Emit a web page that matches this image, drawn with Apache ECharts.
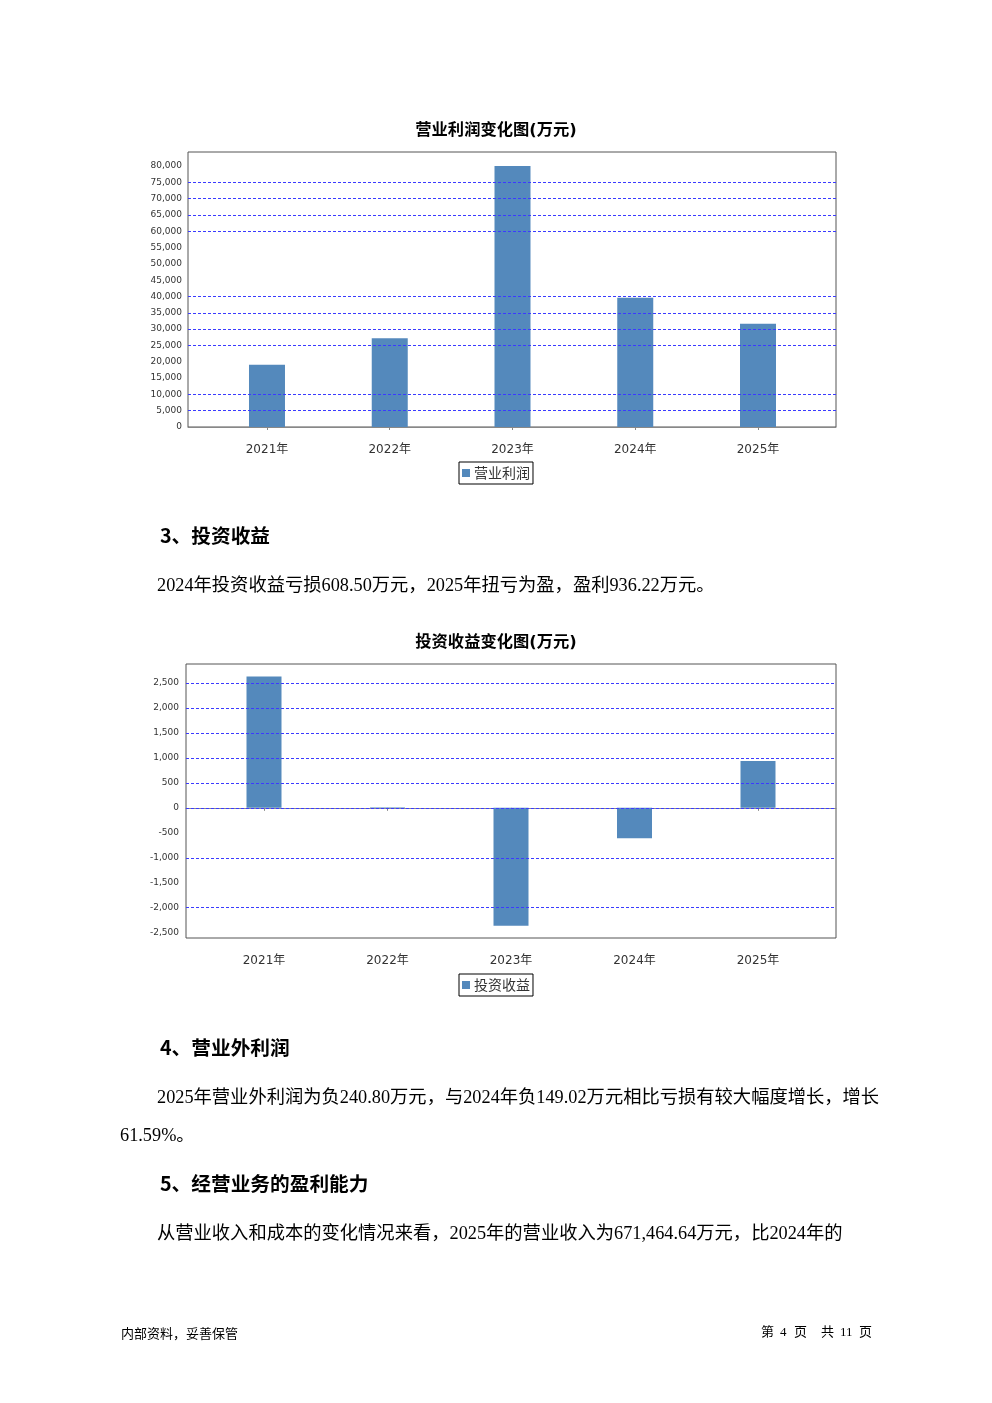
<!DOCTYPE html>
<html>
<head>
<meta charset="utf-8">
<script src="https://cdn.jsdelivr.net/npm/echarts@6/dist/echarts.min.js"></script>
<style>
html,body{margin:0;padding:0;background:#fff;}
#c{width:992px;height:1403px;}
</style>
</head>
<body>
<div id="c"></div>
<script>
// ---- data ----
const categories = ['2021年', '2022年', '2023年', '2024年', '2025年'];
const profitValues = [19100, 27200, 80000, 39650, 31650];           // 营业利润 (万元)
const investValues = [2630, 12, -2360, -608.50, 936.22];           // 投资收益 (万元)
const profitTicks = [0,5000,10000,15000,20000,25000,30000,35000,40000,45000,50000,55000,60000,65000,70000,75000,80000];
const investTicks = [-2500,-2000,-1500,-1000,-500,0,500,1000,1500,2000,2500];
const profitGridLines = [5000,10000,25000,30000,35000,40000,60000,65000,70000,75000];
const investGridLines = [2500,2000,1500,1000,500,0,-1000,-2000];

const BAR = '#5489bc';
const GRIDLINE = {color:'#3b3bff', type:[3,2], width:1};
const catIdx = categories.map((_, i) => i);
const fmt = v => Number(v).toLocaleString('en-US');

function xAxisFor(gridIndex, min, max) {
  return {
    type:'value', gridIndex, min, max, offset:9,
    splitLine:{show:false},
    axisLine:{show:true, lineStyle:{color:'#888'}},
    axisTick:{show:true, customValues:catIdx, length:3, lineStyle:{color:'#888'}},
    axisLabel:{customValues:catIdx, formatter:v => categories[Math.round(v)] || '', fontSize:12,
      color:'#333', margin:8, fontFamily:'"DejaVu Sans","Noto Sans CJK SC"'}
  };
}
function yAxisFor(gridIndex, min, max, ticks, margin) {
  return {
    type:'value', gridIndex, min, max,
    splitLine:{show:false}, axisLine:{show:false}, axisTick:{show:false},
    axisLabel:{customValues:ticks, formatter:fmt, fontSize:9, color:'#333', margin,
      fontFamily:'"DejaVu Sans"'}
  };
}
function gridLineSeries(name, idx, values) {
  return {
    name, type:'line', xAxisIndex:idx, yAxisIndex:idx, z:1, silent:true,
    data:[[0, values[0]]], showSymbol:false, symbolSize:0, lineStyle:{opacity:0}, itemStyle:{opacity:0},
    markLine:{silent:true, symbol:['none','none'], label:{show:false}, animation:false,
      lineStyle:GRIDLINE, emphasis:{disabled:true},
      data:values.map(v => ({yAxis:v}))}
  };
}
const legendBase = {
  left:'center', icon:'rect', itemWidth:8, itemHeight:8, itemGap:4,
  borderColor:'#000', borderWidth:1, padding:[3,3,3,3], selectedMode:false,
  textStyle:{fontSize:14, color:'#333', lineHeight:16, padding:[0,0,0,-1], fontFamily:'"Noto Sans CJK SC"'}
};

const BODY = '18.3px "Liberation Serif","Noto Sans CJK SC"';
const HEAD = 'bold 19.7px "Noto Sans CJK SC"';
const FOOT = '13px "Liberation Serif","Noto Sans CJK SC"';
function txt(x, y, text, font, align) {
  return {type:'text', x, y, silent:true,
    style:{text, font, fill:'#000', align:align || 'left', verticalAlign:'middle'}};
}

const option = {
  animation:false,
  backgroundColor:'#fff',
  title:[
    {text:'营业利润变化图(万元)', left:'center', top:123, padding:0,
      textStyle:{fontSize:16.3, fontWeight:'bold', color:'#000', fontFamily:'"DejaVu Sans","Noto Sans CJK SC"'}},
    {text:'投资收益变化图(万元)', left:'center', top:635, padding:0,
      textStyle:{fontSize:16.3, fontWeight:'bold', color:'#000', fontFamily:'"DejaVu Sans","Noto Sans CJK SC"'}}
  ],
  legend:[
    Object.assign({}, legendBase, {data:['营业利润'], top:462}),
    Object.assign({}, legendBase, {data:['投资收益'], top:974})
  ],
  grid:[
    {left:188, right:156, top:152, height:275, show:true, borderColor:'#555', borderWidth:1, backgroundColor:'#fff'},
    {left:186, right:156, top:664, height:274, show:true, borderColor:'#555', borderWidth:1, backgroundColor:'#fff'}
  ],
  xAxis:[ xAxisFor(0, -0.6435, 4.6354), xAxisFor(1, -0.6316, 4.6316) ],
  yAxis:[ yAxisFor(0, 0, 84300, profitTicks, 6), yAxisFor(1, -2606, 2880, investTicks, 7) ],
  series:[
    gridLineSeries('gl1', 0, profitGridLines),
    {name:'营业利润', type:'bar', xAxisIndex:0, yAxisIndex:0, z:3, barWidth:36,
      itemStyle:{color:BAR}, data:profitValues.map((v, i) => [i, v])},
    gridLineSeries('gl2', 1, investGridLines),
    {name:'投资收益', type:'bar', xAxisIndex:1, yAxisIndex:1, z:3, barWidth:35,
      itemStyle:{color:BAR}, data:investValues.map((v, i) => [i, v])}
  ],
  graphic:[
    txt(160, 536, '3、投资收益', HEAD),
    txt(157, 586, '2024年投资收益亏损608.50万元，2025年扭亏为盈，盈利936.22万元。', BODY),
    txt(160, 1048, '4、营业外利润', HEAD),
    txt(157, 1098, '2025年营业外利润为负240.80万元，与2024年负149.02万元相比亏损有较大幅度增长，增长', BODY),
    txt(120, 1136, '61.59%。', BODY),
    txt(160, 1184, '5、经营业务的盈利能力', HEAD),
    txt(157, 1234, '从营业收入和成本的变化情况来看，2025年的营业收入为671,464.64万元，比2024年的', BODY),
    txt(121, 1333, '内部资料，妥善保管', '13px "Noto Sans CJK SC"'),
    txt(761, 1333, '第', FOOT),
    txt(780, 1333, '4', FOOT),
    txt(794, 1333, '页', FOOT),
    txt(821, 1333, '共', FOOT),
    txt(840, 1333, '11', FOOT),
    txt(859, 1333, '页', FOOT)
  ]
};
const chart = echarts.init(document.getElementById('c'), null, {renderer:'canvas'});
chart.setOption(option);
</script>
</body>
</html>
